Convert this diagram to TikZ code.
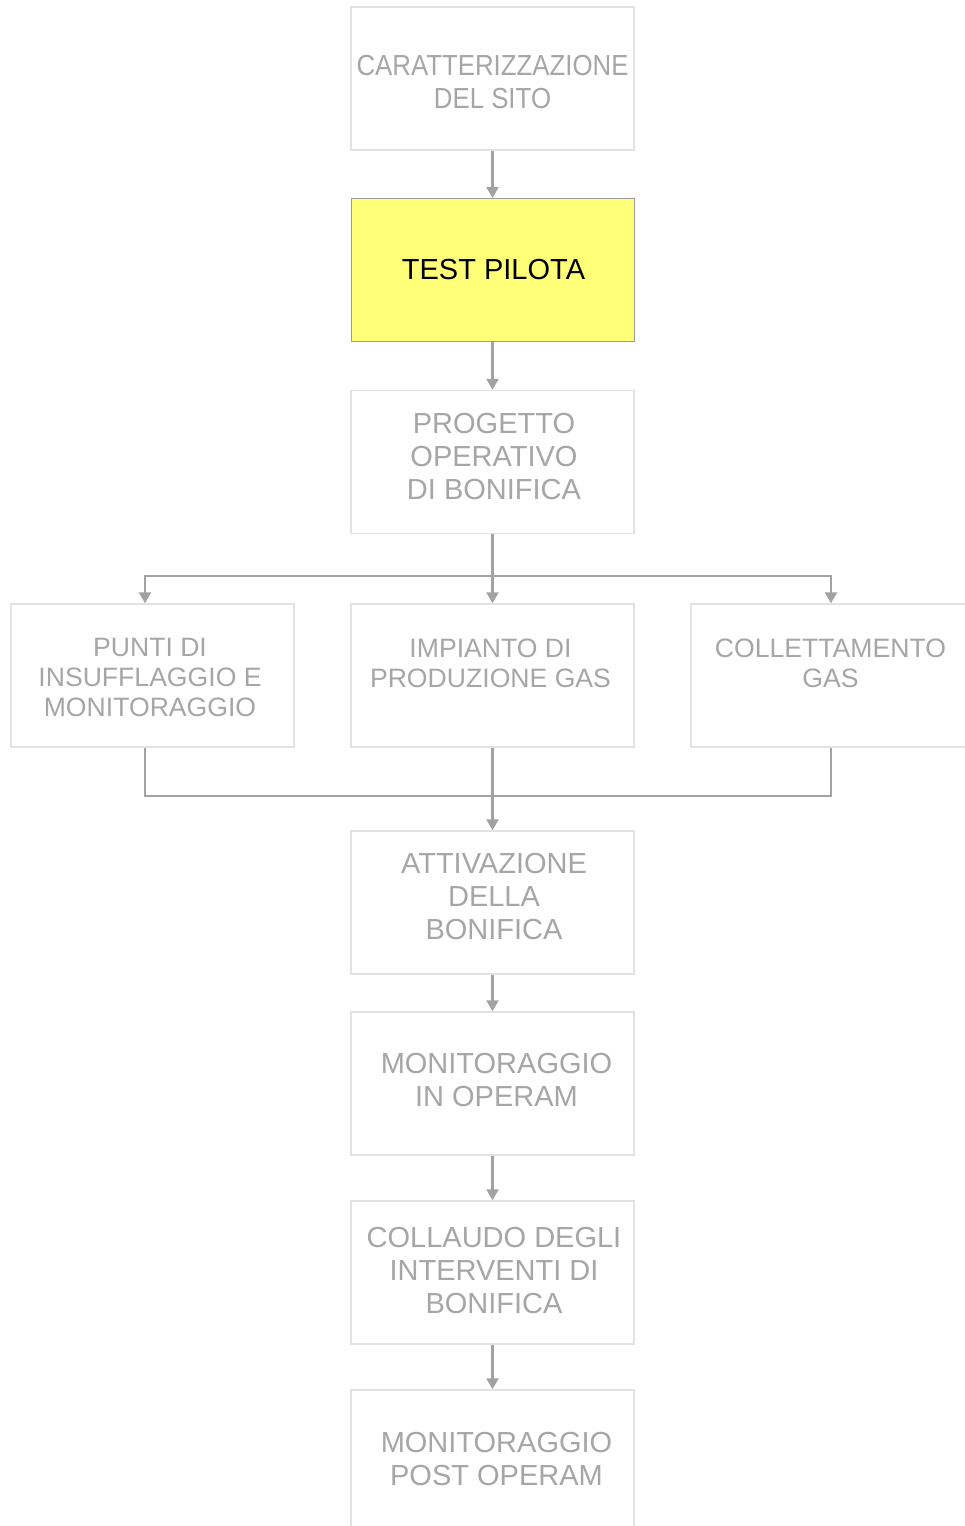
\documentclass[tikz,border=0pt]{standalone}
\usepackage{fontspec}
\usepackage{graphicx}
\setmainfont{Liberation Sans}
\usetikzlibrary{arrows.meta,calc}
\definecolor{txtgray}{HTML}{A6A6A6}
\definecolor{boxline}{HTML}{E2E2E2}
\definecolor{conngray}{HTML}{A2A2A2}
\definecolor{hiyellow}{HTML}{FFFF78}
\definecolor{hiborder}{HTML}{9A9A9A}
\begin{document}
\begin{tikzpicture}[x=1pt,y=-1pt,
  box/.style={draw=boxline,line width=1.5pt,minimum width=283pt,minimum height=143pt,inner sep=0pt},
  hbox/.style={box,draw=hiborder,line width=1pt,fill=hiyellow},
  txt/.style={inner sep=0pt,align=center,text=txtgray,font=\fontsize{29}{33}\selectfont},
  stxt/.style={txt,font=\fontsize{26.6}{30}\selectfont},
  htxt/.style={txt,text=black},
  conn/.style={draw=conngray,line width=2.5pt},
  arr/.style={conn,-{Triangle[width=12pt,length=11pt]}}]
\fill[white] (0,0) rectangle (964,1526);
\useasboundingbox (0,0) rectangle (964,1526);

% boxes
\node[box] (car) at (492.5,78.5) {};
\node[hbox] (test) at (492.5,270) {};
\node[box] (prog) at (492.5,462) {};
\node[box] (punti) at (152.5,675.5) {};
\node[box] (imp) at (492.5,675.5) {};
\node[box] (coll) at (832.5,675.5) {};
\node[box] (att) at (492.5,902.5) {};
\node[box] (mio) at (492.5,1083.5) {};
\node[box] (col) at (492.5,1272.5) {};
\node[box] (mpo) at (492.5,1461.5) {};

% texts
\node[txt] (tcar) at ([yshift=-4pt]car.center) {\scalebox{0.89}[1]{CARATTERIZZAZIONE}\\\scalebox{0.89}[1]{DEL SITO}};
\node[htxt] (ttest) at ([xshift=1pt]test.center) {TEST PILOTA};
\node[txt] (tprog) at ([xshift=1.5pt,yshift=5pt]prog.center) {PROGETTO\\OPERATIVO\\DI BONIFICA};
\node[stxt,anchor=north] (tpunti) at ([xshift=-2.5pt,yshift=-35pt]punti.north) {PUNTI DI\\INSUFFLAGGIO E\\MONITORAGGIO};
\node[stxt,anchor=north] (timp) at ([xshift=-2pt,yshift=-35pt]imp.north) {IMPIANTO DI\\PRODUZIONE GAS};
\node[stxt,anchor=north] (tcoll) at ([xshift=-2pt,yshift=-35pt]coll.north) {COLLETTAMENTO\\GAS};
\node[txt] (tatt) at ([xshift=1.5pt,yshift=6pt]att.center) {ATTIVAZIONE\\DELLA\\BONIFICA};
\node[txt] (tmio) at ([xshift=4pt,yshift=3pt]mio.center) {MONITORAGGIO\\IN OPERAM};
\node[txt] (tcol) at ([xshift=1.5pt,yshift=2pt]col.center) {COLLAUDO DEGLI\\INTERVENTI DI\\BONIFICA};
\node[txt] (tmpo) at ([xshift=4pt,yshift=3pt]mpo.center) {MONITORAGGIO\\POST OPERAM};

% connectors
\draw[arr] (car) -- (test);
\draw[arr] (test) -- (prog);

\coordinate (split) at (492.5,576);
\draw[conn] (prog.south) -- (split);
\draw[arr] (split) -| ([xshift=-7.5pt]punti.north);
\draw[arr] (split) -- (imp.north);
\draw[arr] (split) -| ([xshift=-1.5pt]coll.north);

\coordinate (merge) at (492.5,796);
\draw[conn] ([xshift=-7.5pt]punti.south) |- (merge);
\draw[conn] ([xshift=-1.5pt]coll.south) |- (merge);
\draw[conn] (imp.south) -- (merge);
\draw[arr] (merge) -- (att.north);

\draw[arr] (att) -- (mio);
\draw[arr] (mio) -- (col);
\draw[arr] (col) -- (mpo);
\end{tikzpicture}
\end{document}
